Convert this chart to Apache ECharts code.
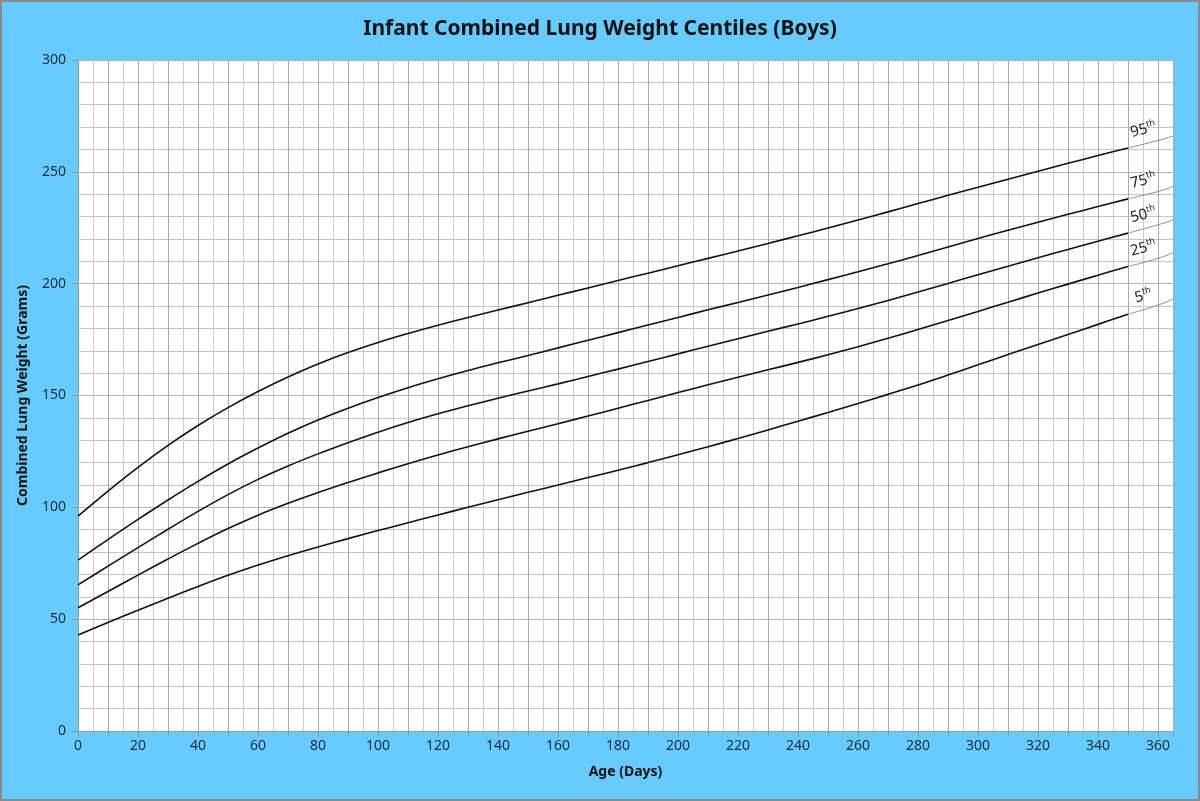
<!DOCTYPE html>
<html>
<head>
<meta charset="utf-8">
<title>Infant Combined Lung Weight Centiles (Boys)</title>
<script src="https://cdn.jsdelivr.net/npm/echarts@6/dist/echarts.min.js"></script>
</head>
<body style="margin:0;">
<div id="main" style="width:1200px;height:801px;"></div>
<script>
// age in days and centile values (grams)
var days = [0, 10, 20, 30, 40, 50, 60, 70, 80, 90, 100, 110, 120, 130, 140, 150, 160, 170, 180,
    190, 200, 210, 220, 230, 240, 250, 260, 270, 280, 290, 300, 310, 320, 330, 340, 350, 360, 365];

var p95 = [96.1, 107.3, 117.9, 127.7, 136.6, 144.6, 151.8, 158.3, 164.1, 169.2, 173.7, 177.7, 181.4,
    184.9, 188.2, 191.5, 194.8, 198.1, 201.4, 204.7, 208.0, 211.3, 214.6, 218.0, 221.4, 224.9, 228.5,
    232.1, 235.8, 239.5, 243.1, 246.7, 250.3, 253.8, 257.3, 260.7, 264.0, 266.0];
var p75 = [76.4, 85.6, 94.6, 103.3, 111.6, 119.4, 126.5, 133.1, 139.0, 144.3, 149.1, 153.5, 157.5,
    161.2, 164.6, 167.9, 171.3, 174.7, 178.1, 181.5, 184.9, 188.3, 191.6, 194.9, 198.3, 201.8, 205.3,
    208.9, 212.6, 216.4, 220.2, 223.9, 227.5, 231.0, 234.5, 237.9, 241.2, 243.4];
var p50 = [65.3, 73.7, 82.0, 90.2, 98.2, 105.7, 112.5, 118.5, 123.9, 128.9, 133.6, 137.9, 141.8,
    145.4, 148.8, 152.0, 155.2, 158.5, 161.8, 165.2, 168.6, 172.0, 175.4, 178.7, 182.0, 185.4, 188.9,
    192.5, 196.3, 200.1, 204.0, 207.8, 211.6, 215.3, 219.0, 222.6, 226.3, 228.5];
var p25 = [55.1, 62.4, 69.7, 76.9, 83.9, 90.5, 96.5, 101.8, 106.6, 111.1, 115.4, 119.5, 123.4, 127.1,
    130.6, 134.0, 137.4, 140.8, 144.3, 147.8, 151.3, 154.8, 158.2, 161.5, 164.8, 168.2, 171.8, 175.6,
    179.5, 183.5, 187.6, 191.7, 195.8, 199.8, 203.8, 207.7, 211.3, 213.8];
var p5 = [42.9, 48.5, 54.0, 59.4, 64.6, 69.6, 74.2, 78.4, 82.3, 86.0, 89.6, 93.1, 96.6, 100.0, 103.4,
    106.7, 110.0, 113.3, 116.6, 120.0, 123.5, 127.1, 130.8, 134.6, 138.5, 142.4, 146.4, 150.5, 154.7,
    159.2, 163.7, 168.3, 172.8, 177.3, 181.8, 186.3, 190.4, 193.1];

var centiles = [
    { name: '95', values: p95 },
    { name: '75', values: p75 },
    { name: '50', values: p50 },
    { name: '25', values: p25 },
    { name: '5', values: p5 }
];

var solidEnd = 350; // the curves turn into a thin grey line after this day

var labelFont = 'Noto Sans';
var series = [];
centiles.forEach(function (c) {
    var solid = [], tail = [];
    days.forEach(function (d, i) {
        if (d <= solidEnd) solid.push([d, c.values[i]]);
        if (d >= solidEnd) tail.push([d, c.values[i]]);
    });
    series.push({
        name: c.name + 'th',
        type: 'line',
        smooth: 0.4,
        showSymbol: false,
        silent: true,
        data: solid,
        lineStyle: { color: '#111', width: 1.6 },
        markPoint: {
            symbol: 'circle',
            symbolSize: 0,
            silent: true,
            data: [{ coord: solid[solid.length - 1] }],
            label: {
                show: true,
                position: 'top',
                offset: [18, 0],
                rotate: 14,
                formatter: '{n|' + c.name + '}{s|th}',
                rich: {
                    n: { fontFamily: labelFont, fontSize: 15, color: '#222' },
                    s: { fontFamily: labelFont, fontSize: 9, color: '#222', padding: [0, 0, 9, 0] }
                }
            }
        }
    });
    series.push({
        type: 'line',
        smooth: true,
        showSymbol: false,
        silent: true,
        data: tail,
        lineStyle: { color: '#8c8c8c', width: 1 }
    });
});

var chart = echarts.init(document.getElementById('main'));
chart.setOption({
    backgroundColor: '#66ccff',
    animation: false,
    title: {
        text: 'Infant Combined Lung Weight Centiles (Boys)',
        left: 'center',
        top: 14,
        textStyle: { fontFamily: labelFont, fontSize: 21, fontWeight: 'bold', color: '#111' }
    },
    graphic: [{
        type: 'rect',
        shape: { x: 1, y: 1, width: 1198, height: 799 },
        style: { fill: 'none', stroke: '#8a8a8a', lineWidth: 2 },
        silent: true
    }],
    grid: {
        left: 78, right: 27, top: 60, bottom: 70,
        show: true, backgroundColor: '#fff', borderWidth: 0
    },
    xAxis: {
        type: 'value',
        min: 0, max: 365, interval: 10,
        name: 'Age (Days)',
        nameLocation: 'middle',
        nameGap: 34,
        nameTextStyle: { fontFamily: labelFont, fontSize: 14, fontWeight: 'bold', color: '#111' },
        axisLine: { lineStyle: { color: '#999' } },
        axisTick: { show: true, length: 6, lineStyle: { color: '#999' } },
        axisLabel: {
            fontFamily: labelFont, fontSize: 14, color: '#1c2b3a', margin: 8,
            formatter: function (v) { return v % 20 === 0 ? v : ''; }
        },
        splitLine: { show: true, lineStyle: { color: '#a9a9a9', width: 1 } },
        minorTick: { show: false, splitNumber: 2 },
        minorSplitLine: { show: true, lineStyle: { color: '#cdcdcd', width: 1 } }
    },
    yAxis: {
        type: 'value',
        min: 0, max: 300, interval: 50,
        name: 'Combined Lung Weight (Grams)',
        nameLocation: 'middle',
        nameGap: 48,
        nameTextStyle: { fontFamily: labelFont, fontSize: 14, fontWeight: 'bold', color: '#111' },
        axisLine: { show: true, lineStyle: { color: '#999' } },
        axisTick: { show: true, length: 6, lineStyle: { color: '#999' } },
        axisLabel: { fontFamily: labelFont, fontSize: 14, color: '#1c2b3a', margin: 12 },
        splitLine: { show: true, lineStyle: { color: '#b3b3b3', width: 1 } },
        minorTick: { show: false, splitNumber: 5 },
        minorSplitLine: { show: true, lineStyle: { color: '#c4c4c4', width: 1 } }
    },
    series: series
});
</script>
</body>
</html>
